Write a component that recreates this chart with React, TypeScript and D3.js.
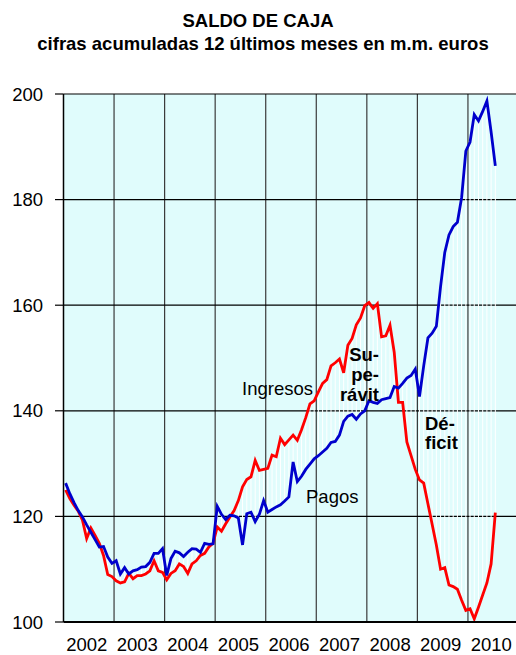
import React from 'react';
import * as d3 from 'd3';

const years = ['2002', '2003', '2004', '2005', '2006', '2007', '2008', '2009', '2010'];
const yTicks = [100, 120, 140, 160, 180, 200];

// Ingresos (monthly, Jan 2002 - Jul 2010)
const ingresos = [
  125.0, 123.4, 122.1, 121.0, 119.3, 115.8, 117.8, 116.4, 114.9, 112.6, 109.0, 108.6,
  107.8, 107.4, 107.6, 109.2, 108.2, 108.8, 108.8, 109.1, 109.7, 111.6, 109.7, 109.4,
  108.0, 109.2, 109.7, 111.0, 110.5, 109.2, 111.0, 111.6, 112.6, 113.0, 114.2, 114.9,
  118.0, 117.2, 118.6, 119.9, 121.1, 123.0, 125.6, 127.0, 127.5, 130.6, 128.7, 128.9,
  129.1, 131.6, 131.3, 134.8, 133.6, 134.5, 135.4, 134.4, 136.4, 138.7, 141.3, 141.9,
  143.6, 145.2, 145.9, 148.5, 149.1, 149.8, 147.2, 152.4, 153.7, 156.3, 157.6, 159.9,
  160.5, 159.4, 160.3, 154.0, 154.2, 156.2, 151.1, 141.6, 141.6, 134.1, 131.5, 128.9,
  126.9, 126.3, 122.4, 118.5, 114.6, 110.0, 110.3, 107.0, 106.7, 106.2, 104.1, 102.2,
  102.5, 100.6, 102.8, 105.1, 107.4, 111.0, 120.7,
];

// Pagos
const pagos = [
  126.3, 124.3, 122.6, 121.1, 119.9, 118.4, 117.0, 115.6, 114.2, 114.3, 112.3, 111.1,
  111.6, 109.1, 110.3, 109.1, 109.7, 109.9, 110.4, 110.5, 111.3, 113.0, 113.0, 113.9,
  108.8, 112.0, 113.4, 113.1, 112.4, 113.2, 113.9, 113.8, 113.2, 114.9, 114.7, 114.8,
  121.9, 120.4, 119.4, 120.2, 120.1, 119.7, 114.6, 120.5, 120.8, 119.0, 120.4, 123.0,
  120.8, 121.3, 121.8, 122.2, 122.9, 123.7, 130.3, 126.6, 127.6, 128.9, 129.9, 130.9,
  131.5, 132.2, 132.9, 134.0, 134.2, 135.4, 138.0, 139.0, 139.3, 138.4, 139.4, 140.0,
  141.9, 141.6, 141.4, 142.1, 142.3, 142.5, 144.6, 144.3, 145.2, 146.2, 146.7, 147.9,
  142.7, 148.5, 153.8, 154.7, 156.0, 163.5, 170.0, 173.3, 174.9, 175.7, 180.4, 189.2,
  190.9, 196.1, 194.9, 196.7, 198.7, 192.8, 186.4,
];

const FONT = '"Liberation Sans", Arial, sans-serif';

export default function App() {
  const W = 516;
  const H = 655;
  const left = 63.5;
  const right = 518.5;
  const top = 94;
  const bottom = 622;

  const x = d3.scaleLinear().domain([0, 108]).range([left, right]);
  const y = d3.scaleLinear().domain([100, 200]).range([bottom, top]);
  const line = d3
    .line<number>()
    .x((_, i) => x(i + 0.5))
    .y((d) => y(d));

  return (
    <svg
      width={W}
      height={H}
      style={{ position: 'absolute', left: 0, top: 0, display: 'block' }}
      fontFamily={FONT}
    >
      <rect x={0} y={0} width={W} height={H} fill="#ffffff" />
      <text x={258} y={27} textAnchor="middle" fontSize={18.5} fontWeight="bold" fill="#000">
        SALDO DE CAJA
      </text>
      <text x={263} y={50} textAnchor="middle" fontSize={18.5} fontWeight="bold" fill="#000">
        cifras acumuladas 12 últimos meses en m.m. euros
      </text>

      <rect x={left} y={top} width={right - left} height={bottom - top} fill="#E0FCFC" />

      {/* vertical year lines */}
      {years.map((_, k) =>
        k === 0 ? null : (
          <line
            key={'v' + k}
            x1={x(12 * k)}
            x2={x(12 * k)}
            y1={top}
            y2={bottom}
            stroke="#3a3a3a"
            strokeWidth={1.2}
          />
        )
      )}

      {/* horizontal grid lines */}
      {yTicks.slice(1).map((t) => (
        <line key={'h' + t} x1={left} x2={right} y1={y(t)} y2={y(t)} stroke="#000" strokeWidth={1.2} />
      ))}

      {/* high-low lines */}
      {ingresos.map((v, i) => (
        <line
          key={'hl' + i}
          x1={x(i + 0.5)}
          x2={x(i + 0.5)}
          y1={y(v)}
          y2={y(pagos[i])}
          stroke="#ffffff"
          strokeWidth={1}
        />
      ))}

      <path d={line(ingresos) || ''} fill="none" stroke="#FF0000" strokeWidth={2.8} strokeLinejoin="miter" />
      <path d={line(pagos) || ''} fill="none" stroke="#0000CC" strokeWidth={2.8} strokeLinejoin="miter" />

      {/* axes */}
      <line x1={left} x2={left} y1={top} y2={bottom} stroke="#000" strokeWidth={1.5} />
      <line x1={left} x2={right} y1={bottom} y2={bottom} stroke="#000" strokeWidth={2.2} />

      {yTicks.map((t) => (
        <g key={'yt' + t}>
          <line x1={55} x2={left} y1={y(t)} y2={y(t)} stroke="#000" strokeWidth={1.2} />
          <text x={43} y={y(t)} dy="0.36em" textAnchor="end" fontSize={18.5} fill="#000">
            {t}
          </text>
        </g>
      ))}

      {years.map((yr, k) => (
        <text key={yr} x={x(12 * k + 6) - 2} y={650.5} textAnchor="middle" fontSize={18.5} fill="#000">
          {yr}
        </text>
      ))}

      <text x={242} y={395} fontSize={18.5} fill="#000">Ingresos</text>
      <text x={306} y={503} fontSize={18.5} fill="#000">Pagos</text>

      <text x={379} y={361} textAnchor="end" fontSize={18.5} fontWeight="bold" fill="#000">Su-</text>
      <text x={379} y={380.5} textAnchor="end" fontSize={18.5} fontWeight="bold" fill="#000">pe-</text>
      <text x={379} y={400.5} textAnchor="end" fontSize={18.5} fontWeight="bold" fill="#000">rávit</text>

      <text x={425} y={429.5} fontSize={18.5} fontWeight="bold" fill="#000">Dé-</text>
      <text x={425} y={449} fontSize={18.5} fontWeight="bold" fill="#000">ficit</text>
    </svg>
  );
}
